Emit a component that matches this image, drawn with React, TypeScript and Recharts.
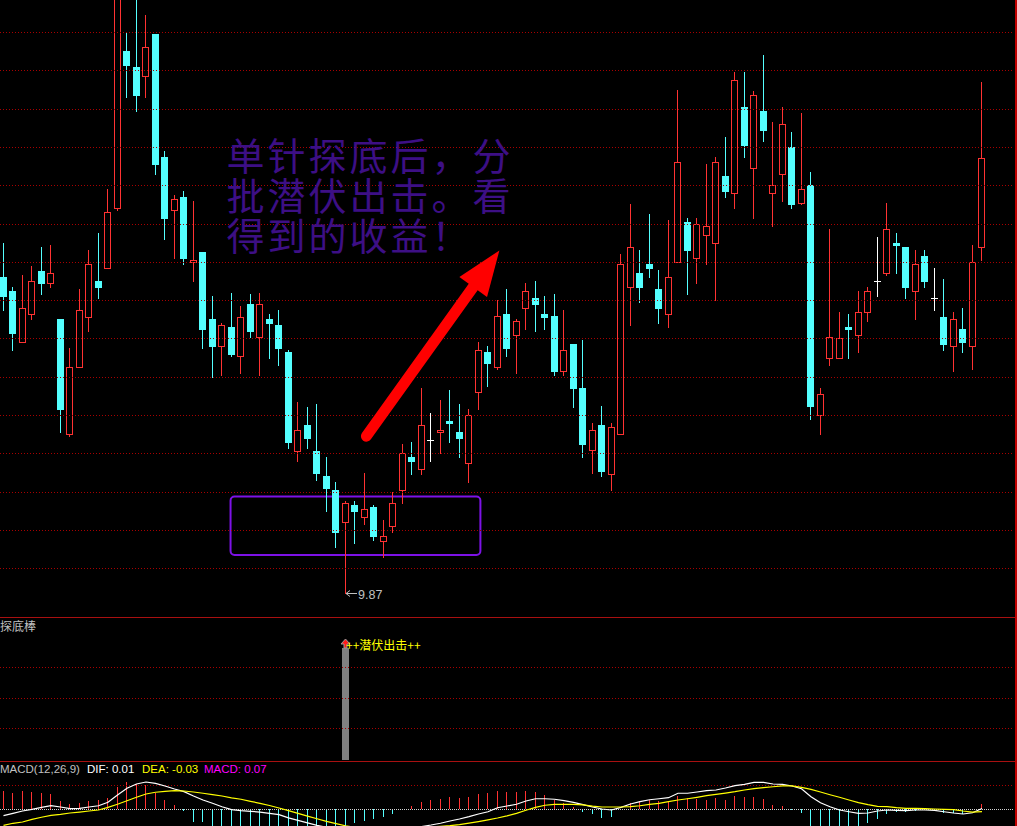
import React from 'react';
import { ComposedChart, Bar, Line, XAxis, YAxis, ReferenceLine, ReferenceArea, ReferenceDot } from 'recharts';

// Daily OHLC
const opens = [
  11.52, 11.45, 11.18, 11.33, 11.55, 11.49, 11.30, 10.70, 11.05, 11.31,
  11.50, 11.57, 11.88, 12.70, 12.62, 12.57, 12.79, 12.15, 11.87, 11.94,
  11.60, 11.65, 11.30, 11.16, 11.26, 11.11, 11.38, 11.21, 11.30, 11.27,
  11.13, 10.61, 10.75, 10.61, 10.48, 10.41, 10.24, 10.33, 10.27, 10.32,
  10.14, 10.22, 10.41, 10.58, 10.52, 10.67, 10.71, 10.77, 10.71, 10.55,
  10.92, 11.13, 11.05, 11.33, 11.22, 11.36, 11.41, 11.33, 11.32, 11.03,
  11.17, 10.94, 10.62, 10.75, 10.49, 10.70, 11.47, 11.54, 11.59, 11.46,
  11.33, 11.60, 11.81, 11.62, 11.74, 11.70, 12.05, 11.96, 12.41, 12.09,
  12.39, 11.96, 12.06, 12.20, 11.91, 12.00, 10.80, 11.10, 11.10, 11.26,
  11.22, 11.34, 11.50, 11.54, 11.70, 11.68, 11.45, 11.63, 11.41, 11.31,
  11.16, 11.25, 11.16, 11.68,
];
const highs = [
  11.70, 11.47, 11.53, 11.58, 11.68, 11.69, 11.30, 11.15, 11.46, 11.66,
  11.75, 11.98, 13.03, 12.80, 13.02, 12.89, 12.79, 12.18, 11.95, 11.97,
  11.92, 11.65, 11.42, 11.28, 11.44, 11.37, 11.43, 11.44, 11.33, 11.35,
  11.14, 10.87, 10.84, 10.86, 10.58, 10.45, 10.35, 10.35, 10.50, 10.33,
  10.25, 10.40, 10.65, 10.66, 10.94, 10.81, 10.88, 10.93, 10.86, 10.83,
  11.18, 11.16, 11.40, 11.46, 11.30, 11.49, 11.50, 11.42, 11.43, 11.35,
  11.17, 11.19, 10.76, 10.85, 10.76, 11.64, 11.90, 11.66, 11.85, 11.56,
  11.82, 12.50, 11.83, 11.83, 12.11, 12.15, 12.25, 12.59, 12.59, 12.49,
  12.68, 12.33, 12.41, 12.28, 12.38, 12.07, 10.94, 11.77, 11.34, 11.33,
  11.45, 11.47, 11.73, 11.91, 11.75, 11.68, 11.66, 11.66, 11.57, 11.51,
  11.34, 11.36, 11.69, 12.54,
];
const lows = [
  11.35, 11.14, 11.18, 11.30, 11.43, 11.47, 10.71, 10.69, 11.05, 11.24,
  11.41, 11.57, 11.87, 12.46, 12.39, 12.46, 12.06, 11.72, 11.62, 11.59,
  11.50, 11.15, 11.00, 11.01, 11.11, 11.02, 11.21, 11.01, 11.10, 11.06,
  10.63, 10.56, 10.63, 10.46, 10.30, 10.11, 9.87, 10.13, 10.23, 10.15,
  10.06, 10.19, 10.34, 10.49, 10.49, 10.56, 10.60, 10.66, 10.58, 10.45,
  10.83, 10.95, 11.04, 11.11, 11.02, 11.25, 11.24, 11.25, 11.01, 11.01,
  10.84, 10.58, 10.50, 10.48, 10.41, 10.70, 11.27, 11.39, 11.52, 11.28,
  11.26, 11.60, 11.43, 11.49, 11.59, 11.40, 11.94, 11.88, 12.15, 11.83,
  12.23, 11.79, 11.92, 11.88, 11.90, 10.78, 10.70, 11.06, 11.10, 11.10,
  11.13, 11.29, 11.42, 11.53, 11.54, 11.41, 11.30, 11.47, 11.35, 11.14,
  11.03, 11.13, 11.04, 11.61,
];
const closes = [
  11.42, 11.23, 11.36, 11.50, 11.49, 11.54, 10.83, 11.05, 11.35, 11.59,
  11.47, 11.86, 13.01, 12.63, 12.47, 12.72, 12.11, 11.83, 11.93, 11.62,
  11.61, 11.25, 11.16, 11.27, 11.12, 11.31, 11.24, 11.38, 11.28, 11.15,
  10.66, 10.72, 10.68, 10.50, 10.42, 10.19, 10.34, 10.30, 10.31, 10.17,
  10.17, 10.34, 10.60, 10.56, 10.75, 10.67, 10.72, 10.76, 10.68, 10.80,
  11.14, 11.07, 11.32, 11.15, 11.29, 11.45, 11.38, 11.31, 11.03, 11.14,
  10.94, 10.65, 10.72, 10.51, 10.74, 11.59, 11.68, 11.47, 11.57, 11.36,
  11.52, 12.12, 11.66, 11.80, 11.79, 12.12, 11.97, 12.55, 12.21, 12.47,
  12.29, 12.00, 12.32, 11.90, 11.98, 10.85, 10.91, 11.21, 11.20, 11.25,
  11.34, 11.45, 11.50, 11.77, 11.69, 11.47, 11.59, 11.50, 11.41, 11.17,
  11.30, 11.18, 11.60, 12.14,
];

// MACD(12,26,9)
const difs = [
  -0.084, -0.053, -0.022, 0.000, 0.026, 0.047, 0.030, 0.008, 0.013, 0.030,
  0.047, 0.092, 0.188, 0.276, 0.333, 0.359, 0.342, 0.307, 0.267, 0.232,
  0.175, 0.122, 0.079, 0.034, -0.005, -0.018, -0.026, -0.036, -0.053, -0.071,
  -0.112, -0.145, -0.178, -0.211, -0.237, -0.257, -0.270, -0.283, -0.289, -0.289,
  -0.283, -0.270, -0.257, -0.241, -0.226, -0.207, -0.184, -0.154, -0.128, -0.097,
  -0.062, -0.032, 0.021, 0.043, 0.066, 0.109, 0.139, 0.139, 0.132, 0.113,
  0.092, 0.061, 0.030, 0.004, -0.009, 0.026, 0.070, 0.100, 0.126, 0.139,
  0.153, 0.211, 0.211, 0.228, 0.245, 0.254, 0.280, 0.311, 0.329, 0.355,
  0.355, 0.333, 0.329, 0.307, 0.271, 0.166, 0.087, 0.034, -0.009, -0.032,
  -0.053, -0.049, -0.022, -0.009, -0.013, -0.018, -0.009, -0.009, -0.013, -0.032,
  -0.049, -0.062, -0.045, 0.010,
];
const deas = [
  -0.211, -0.184, -0.167, -0.132, -0.105, -0.079, -0.066, -0.049, -0.036, -0.022,
  -0.009, 0.026, 0.066, 0.113, 0.158, 0.201, 0.224, 0.237, 0.245, 0.241,
  0.228, 0.211, 0.192, 0.175, 0.151, 0.132, 0.105, 0.079, 0.050, 0.017,
  -0.017, -0.053, -0.089, -0.124, -0.158, -0.188, -0.217, -0.237, -0.250, -0.257,
  -0.263, -0.263, -0.257, -0.250, -0.241, -0.232, -0.224, -0.216, -0.201, -0.182,
  -0.161, -0.138, -0.114, -0.086, -0.053, -0.013, 0.026, 0.053, 0.066, 0.066,
  0.066, 0.059, 0.043, 0.030, 0.030, 0.030, 0.034, 0.047, 0.066, 0.079,
  0.100, 0.122, 0.139, 0.158, 0.179, 0.197, 0.214, 0.232, 0.254, 0.271,
  0.284, 0.297, 0.307, 0.307, 0.289, 0.263, 0.228, 0.192, 0.158, 0.122,
  0.087, 0.061, 0.039, 0.034, 0.021, 0.013, 0.013, 0.008, 0.004, 0.000,
  -0.005, -0.022, -0.036, -0.030,
];
const macdHist = [
  0.241, 0.218, 0.241, 0.232, 0.218, 0.197, 0.109, 0.074, 0.087, 0.109,
  0.122, 0.145, 0.289, 0.355, 0.333, 0.320, 0.218, 0.118, 0.061, -0.022,
  -0.171, -0.171, -0.237, -0.276, -0.316, -0.316, -0.303, -0.276, -0.263, -0.250,
  -0.243, -0.237, -0.237, -0.237, -0.230, -0.230, -0.237, -0.184, -0.150, -0.132,
  -0.105, -0.066, 0, 0.043, 0.100, 0.122, 0.136, 0.162, 0.149, 0.162,
  0.205, 0.218, 0.241, 0.228, 0.228, 0.241, 0.228, 0.188, 0.122, 0.087,
  0.034, -0.032, -0.062, -0.111, -0.097, 0, 0.087, 0.109, 0.122, 0.109,
  0.109, 0.175, 0.153, 0.136, 0.122, 0.149, 0.122, 0.179, 0.162, 0.162,
  0.136, 0.057, 0.043, -0.007, -0.045, -0.230, -0.282, -0.316, -0.334, -0.308,
  -0.279, -0.184, -0.132, -0.066, -0.032, -0.032, -0.018, -0.007, -0.007, -0.053,
  -0.053, -0.066, -0.013, 0.070,
];

// days where 探底棒 fired
const signalDays = [36];

const priceGrid = [10.0, 10.2, 10.4, 10.6, 10.8, 11.0, 11.2, 11.4, 11.6, 11.8, 12.0, 12.2, 12.4, 12.6, 12.8];
const signalGrid = [0.284, 0.552, 0.83];
const macdGrid = [0.32];

// annotation box and arrow, in day / price units
const boxFrom = { x: 23.9, y: 10.07 };
const boxTo = { x: 50.2, y: 10.375 };
const arrowFrom = { x: 38.2, y: 10.69 };
const arrowTo = { x: 52.2, y: 11.66 };

const headline = ['单针探底后，分', '批潜伏出击。看', '得到的收益！'];

const UP = '#ff3232';
const DOWN = '#54ffff';
const GRID = '#a80000';
const RULE = '#a81010';
const CJK = "'Noto Sans CJK SC', sans-serif";
const LATIN = "'Liberation Sans', Arial, sans-serif";

const W = 1017;
const X_DOMAIN: [number, number] = [-0.3684, 106.6842];
const PRICE_DOMAIN: [number, number] = [9.7457, 12.9676];
const SIGNAL_DOMAIN: [number, number] = [0, 1.2825];
const MACD_DOMAIN: [number, number] = [-0.9566, 0.6224];

const candles = opens.map((open, i) => ({
  i, open, high: highs[i], low: lows[i], close: closes[i], range: [lows[i], highs[i]],
}));
const minLow = Math.min(...lows);
const minIdx = lows.indexOf(minLow);
const signals = opens.map((_, i) => ({ i, sig: signalDays.includes(i) ? 1 : null }));
const macdRows = difs.map((dif, i) => ({ i, dif, dea: deas[i], macd: macdHist[i] }));
const last = macdRows[macdRows.length - 1];

const colOf = (x: number, width: number) => Math.floor(x + width / 2 + 0.01);

const Candle = (props: any) => {
  const { x, width, payload } = props;
  const top0 = Math.min(props.y, props.y + props.height);
  const h = Math.abs(props.height);
  const { open, close, high, low } = payload;
  const col = colOf(x, width);
  const k = h / (high - low);
  const row = (v: number) => Math.round(top0 + (high - v) * k);
  const rH = row(high);
  const rL = row(low);
  const wx = col + 0.5;
  if (open === close) {
    const r = row(close) + 0.5;
    return (
      <g shapeRendering="crispEdges">
        <line x1={wx} x2={wx} y1={rH} y2={rL + 1} stroke="#ffffff" />
        <line x1={col - 3} x2={col + 4} y1={r} y2={r} stroke="#ffffff" />
      </g>
    );
  }
  const top = row(Math.max(open, close));
  const bot = row(Math.min(open, close));
  if (close > open) {
    return (
      <g shapeRendering="crispEdges">
        {top > rH && <line x1={wx} x2={wx} y1={rH} y2={top} stroke={UP} />}
        {rL > bot && <line x1={wx} x2={wx} y1={bot + 1} y2={rL + 1} stroke={UP} />}
        <rect x={col - 2.5} y={top + 0.5} width={6} height={Math.max(bot - top, 1)} fill="#000" stroke={UP} />
      </g>
    );
  }
  return (
    <g shapeRendering="crispEdges">
      <line x1={wx} x2={wx} y1={rH} y2={rL + 1} stroke={DOWN} />
      <rect x={col - 3} y={top} width={7} height={Math.max(bot - top + 1, 1)} fill={DOWN} />
    </g>
  );
};

const MacdStick = (props: any) => {
  const { x, width, y, height, payload } = props;
  if (!height || Math.abs(height) < 0.5) return <g />;
  const wx = colOf(x, width) + 0.5;
  const y1 = Math.round(Math.min(y, y + height));
  const y2 = Math.round(Math.max(y, y + height));
  return <line x1={wx} x2={wx} y1={y1} y2={y2} stroke={payload.macd > 0 ? UP : DOWN} shapeRendering="crispEdges" />;
};

const SignalBar = (props: any) => {
  const { x, width, y, height } = props;
  const col = colOf(x, width);
  const top = Math.round(y);
  const arrow = `M${col + 0.5} ${top - 9} L${col + 5} ${top - 4} L${col + 2} ${top - 4} L${col + 2} ${top} L${col - 1} ${top} L${col - 1} ${top - 4} L${col - 4} ${top - 4} Z`;
  return (
    <g>
      <rect x={col - 3} y={top} width={7} height={height + 1} fill="#808080" shapeRendering="crispEdges" />
      <path d={arrow} fill="#ff1a1a" stroke="#9a9a9a" strokeWidth={1} />
      <text x={col + 1} y={top + 2} fill="#ffff00" fontSize={12} fontFamily={CJK}>++潜伏出击++</text>
    </g>
  );
};

const dottedLine = (color: string, dash: string) => (p: any) => {
  const yy = Math.round(p.y1) + 0.5;
  return <line x1={0} x2={1014} y1={yy} y2={yy} stroke={color} strokeDasharray={dash} shapeRendering="crispEdges" />;
};

const RoundBox = (p: any) => (
  <rect x={p.x} y={p.y} width={p.width} height={p.height} rx={4} fill="none" stroke="#7d12e6" strokeWidth={2} />
);

const BigArrow = (p: any) => {
  const { x1, y1, x2, y2 } = p;
  const len = Math.hypot(x2 - x1, y2 - y1);
  const ux = (x2 - x1) / len;
  const uy = (y2 - y1) / len;
  const head = 45;
  const half = 17;
  const bx = x2 - ux * head;
  const by = y2 - uy * head;
  return (
    <g>
      <line x1={x1} y1={y1} x2={bx + ux * 4} y2={by + uy * 4} stroke="#ff0000" strokeWidth={11} strokeLinecap="round" />
      <polygon points={`${x2},${y2} ${bx - uy * half},${by + ux * half} ${bx + uy * half},${by - ux * half}`} fill="#ff0000" />
    </g>
  );
};

const LowMark = (p: any) => {
  const col = Math.floor(p.cx + 0.01);
  const cy = Math.round(p.cy) + 0.5;
  return (
    <g>
      <path d={`M${col + 5} ${cy - 3} L${col + 1} ${cy} L${col + 5} ${cy + 3}`} fill="none" stroke="#c0c0c0" />
      <line x1={col + 1} x2={col + 12} y1={cy} y2={cy} stroke="#c0c0c0" shapeRendering="crispEdges" />
      <text x={col + 13} y={cy + 5} fill="#c0c0c0" fontSize={12.5} fontFamily={LATIN}>{minLow.toFixed(2)}</text>
    </g>
  );
};

const fmt = (v: number) => v.toFixed(2);

const App: React.FC = () => {
  return (
    <div style={{ position: 'relative', width: W, height: 826, overflow: 'hidden', background: '#000' }}>
      <style>{'body{margin:0;background:#000}'}</style>

      {/* Candlesticks */}
      <div style={{ position: 'absolute', left: 0, top: 0 }}>
        <ComposedChart width={W} height={617} data={candles} margin={{ top: 0, right: 0, bottom: 0, left: 0 }}>
          <XAxis type="number" dataKey="i" domain={X_DOMAIN} hide allowDataOverflow />
          <YAxis type="number" domain={PRICE_DOMAIN} hide allowDataOverflow />
          {priceGrid.map(v => (
            <ReferenceLine key={v} y={v} stroke={GRID} shape={dottedLine(GRID, '1 2')} />
          ))}
          <Bar dataKey="range" barSize={7} shape={Candle} isAnimationActive={false} />
          <ReferenceArea x1={boxFrom.x} x2={boxTo.x} y1={boxFrom.y} y2={boxTo.y} shape={RoundBox} />
          <ReferenceDot x={minIdx} y={minLow} r={0} shape={LowMark} />
          <ReferenceLine segment={[arrowFrom, arrowTo]} shape={BigArrow} />
        </ComposedChart>
      </div>

      {/* 探底棒 */}
      <div style={{ position: 'absolute', left: 0, top: 617 }}>
        <ComposedChart width={W} height={143} data={signals} margin={{ top: 0, right: 0, bottom: 0, left: 0 }}>
          <XAxis type="number" dataKey="i" domain={X_DOMAIN} hide allowDataOverflow />
          <YAxis type="number" domain={SIGNAL_DOMAIN} hide allowDataOverflow />
          {signalGrid.map(v => (
            <ReferenceLine key={v} y={v} stroke={GRID} shape={dottedLine(GRID, '1 2')} />
          ))}
          <Bar dataKey="sig" barSize={7} shape={SignalBar} isAnimationActive={false} />
        </ComposedChart>
      </div>

      {/* MACD */}
      <div style={{ position: 'absolute', left: 0, top: 762 }}>
        <ComposedChart width={W} height={120} data={macdRows} margin={{ top: 0, right: 0, bottom: 0, left: 0 }}>
          <XAxis type="number" dataKey="i" domain={X_DOMAIN} hide allowDataOverflow />
          <YAxis type="number" domain={MACD_DOMAIN} hide allowDataOverflow />
          {macdGrid.map(v => (
            <ReferenceLine key={v} y={v} stroke={GRID} shape={dottedLine(GRID, '1 2')} />
          ))}
          <ReferenceLine y={0} stroke="#d0d0d0" shape={dottedLine('#d0d0d0', '1 1')} />
          <Bar dataKey="macd" barSize={1} shape={MacdStick} isAnimationActive={false} />
          <Line type="linear" dataKey="dif" stroke="#ffffff" strokeWidth={1.2} dot={false} isAnimationActive={false} />
          <Line type="linear" dataKey="dea" stroke="#ffff00" strokeWidth={1.2} dot={false} isAnimationActive={false} />
        </ComposedChart>
      </div>

      {/* panel rules */}
      <div style={{ position: 'absolute', left: 0, top: 617, width: 1015, height: 1, background: RULE }} />
      <div style={{ position: 'absolute', left: 0, top: 761, width: 1015, height: 1, background: RULE }} />
      <div style={{ position: 'absolute', left: 1015, top: 0, width: 2, height: 826, background: '#c00000' }} />

      {/* titles and headline */}
      <svg width={W} height={826} style={{ position: 'absolute', left: 0, top: 0, pointerEvents: 'none' }}>
        <text fill="#3d0f85" fontSize={38} letterSpacing={3} fontFamily={CJK}>
          {headline.map((t, k) => (
            <tspan key={t} x={226.5} y={170 + k * 40}>{t}</tspan>
          ))}
        </text>
        <text x={0} y={631} fill="#c0c0c0" fontSize={12} fontFamily={CJK}>探底棒</text>
        <text y={773} fontSize={11.5} fontFamily={LATIN}>
          <tspan x={0} fill="#c0c0c0">MACD(12,26,9)</tspan>
          <tspan x={87} fill="#ffffff">DIF: {fmt(last.dif)}</tspan>
          <tspan x={142} fill="#ffff00">DEA: {fmt(last.dea)}</tspan>
          <tspan x={204} fill="#ff00ff">MACD: {fmt(last.macd)}</tspan>
        </text>
      </svg>
    </div>
  );
};

export default App;
